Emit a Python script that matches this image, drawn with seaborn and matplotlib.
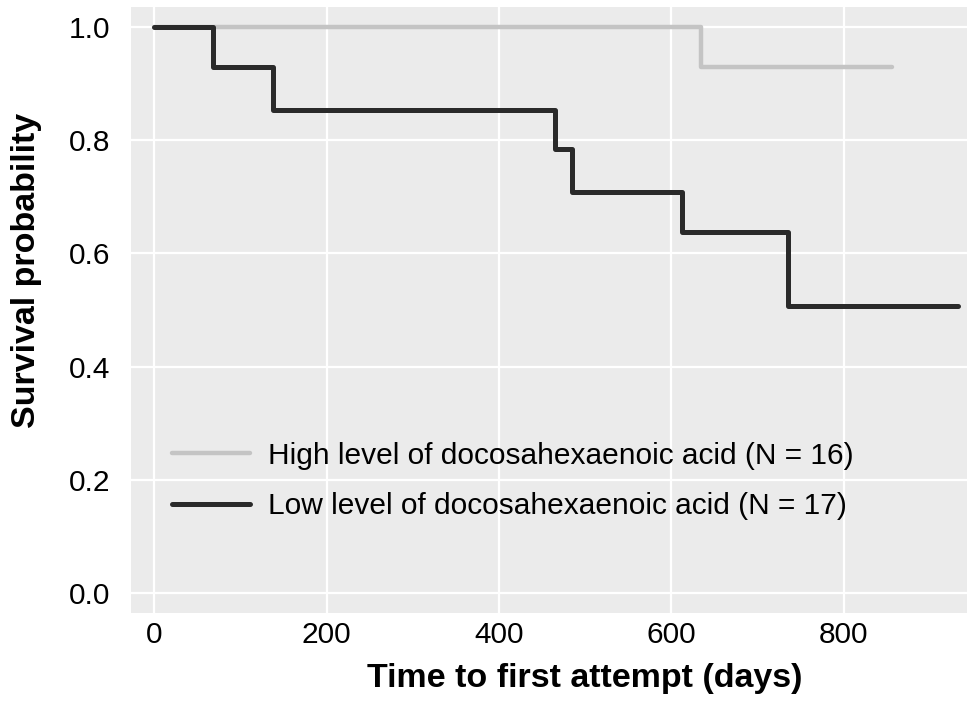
import pandas as pd
import seaborn as sns
import matplotlib.pyplot as plt

# survival curves
high_days = [0, 634, 856]
high_surv = [1.0, 0.929, 0.929]
low_days = [0, 68, 138, 465, 485, 612, 735, 932]
low_surv = [1.0, 0.929, 0.853, 0.784, 0.708, 0.638, 0.507, 0.507]
groups = ["High level of docosahexaenoic acid (N = 16)",
          "Low level of docosahexaenoic acid (N = 17)"]
x_ticks = [0, 200, 400, 600, 800]
y_ticks = [0.0, 0.2, 0.4, 0.6, 0.8, 1.0]

df = pd.concat([
    pd.DataFrame({"days": high_days, "surv": high_surv, "group": groups[0]}),
    pd.DataFrame({"days": low_days, "surv": low_surv, "group": groups[1]}),
])

sns.set_theme(style="darkgrid", rc={"axes.facecolor": "#EBEBEB",
                                    "grid.color": "white", "grid.linewidth": 1.6,
                                    "text.color": "black", "axes.labelcolor": "black",
                                    "xtick.color": "black", "ytick.color": "black"})
plt.rcParams['font.family'] = ['Liberation Sans', 'DejaVu Sans']

fig = plt.figure(figsize=(9.67, 7.10), dpi=100)
ax = fig.add_axes([0.1355, 0.1366, 0.8645, 0.8534])

sns.lineplot(data=df, x="days", y="surv", hue="group", hue_order=groups,
             palette=["#c4c4c4", "#2a2a2a"], drawstyle="steps-post",
             estimator=None, sort=False, ax=ax)
for line, lw in zip(ax.get_lines(), [3.2, 3.6]):
    line.set_linewidth(lw)

ax.set_xlim(-27, 943)
ax.set_ylim(-0.035, 1.035)
ax.set_xticks(x_ticks)
ax.set_yticks(y_ticks)
ax.set_yticklabels([f"{v:.1f}" for v in y_ticks])
ax.tick_params(axis="both", labelsize=21.5, length=0)
ax.tick_params(axis="y", pad=15)
ax.tick_params(axis="x", pad=6)
ax.set_xlabel("Time to first attempt (days)", fontsize=24.5, fontweight="bold")
ax.set_ylabel("Survival probability", fontsize=24.5, fontweight="bold")
ax.xaxis.set_label_coords(0.543, -0.083)
ax.yaxis.set_label_coords(-0.106, 0.566)
for s in ax.spines.values():
    s.set_visible(False)

leg = ax.legend(loc="center left", bbox_to_anchor=(0.049, 0.218), frameon=False,
                fontsize=21.5, handlelength=2.6, handletextpad=0.6, labelspacing=0.74,
                borderpad=0, borderaxespad=0)
for h, lw in zip(leg.get_lines(), [3.2, 3.6]):
    h.set_linewidth(lw)

fig.savefig("out.png", dpi=100)
